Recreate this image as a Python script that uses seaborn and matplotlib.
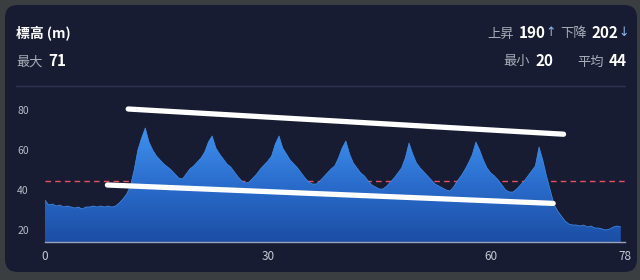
import numpy as np
import pandas as pd
import matplotlib
matplotlib.use("Agg")
import matplotlib.pyplot as plt
from matplotlib.patches import FancyBboxPatch
from matplotlib.colors import LinearSegmentedColormap
import seaborn as sns

# ---------------- data ----------------
step_km = 0.5
elevation = [
    35, 32.5, 33, 32, 32.5, 31.5, 32, 31.5, 31, 31.5,
    30.5, 31.5, 31.5, 32, 31.5, 32, 31.5, 32, 31.5, 32,
    33.5, 35.5, 38, 42, 50, 60, 66, 71, 64, 60,
    57, 55, 53, 51.5, 50, 48, 46, 45.5, 48, 50.5,
    52, 54, 56, 59, 64, 67, 61, 58, 55.5, 53,
    51.5, 49, 46.5, 44.5, 43.5, 44, 46, 48, 50.5, 52.5,
    54.5, 57, 63, 67, 61, 58, 55, 53, 51, 48.5,
    46, 44, 43, 43, 44.5, 46.5, 48.5, 50.5, 52, 56,
    61, 64.5, 58, 53.5, 51, 48.5, 47, 44.5, 42.5, 41.5,
    40.5, 40.5, 42, 44, 46, 48.5, 51, 56, 63.5, 58,
    53.5, 51, 49, 47, 45, 43, 42, 41, 40, 39.5,
    41.5, 44.5, 47, 50, 53.5, 57.5, 64, 60, 55, 51,
    48.5, 47, 45, 42.5, 40, 39, 39, 40.5, 42.5, 44.5,
    47, 49.5, 52, 61.5, 55, 47, 40, 33, 29.5, 27,
    24.5, 23, 22.5, 22.5, 22, 22.5, 21.5, 22, 21, 21,
    20.5, 20, 20.5, 21.5, 22, 21.5,
]
distance = np.arange(len(elevation)) * step_km

avg_line = 44.6
x_ticks = [0, 30, 60, 78]
y_ticks = [20, 40, 60, 80]

# trend lines (distance, elevation) endpoints
upper_trend_x = [11.2, 69.8]
upper_trend_y = [80.5, 67.9]
lower_trend_x = [8.4, 68.4]
lower_trend_y = [42.5, 33.3]

title = "標高 (m)"
stat_max = ("最大", "71")
stat_up = ("上昇", "190", "↑")
stat_down = ("下降", "202", "↓")
stat_min = ("最小", "20")
stat_avg = ("平均", "44")

df = pd.DataFrame({"distance": distance, "elevation": elevation})

# ---------------- style ----------------
sns.set_theme(style="dark")
plt.rcParams["font.family"] = ["Noto Sans CJK JP", "DejaVu Sans"]

BG = "#181c32"
OUTER = "#3b3e41"
GREY = "#a9adb8"
WHITE = "#ffffff"
NUM_FS = 11

W, H = 640, 280
fig = plt.figure(figsize=(W / 100, H / 100), dpi=100)
fig.patch.set_facecolor(OUTER)

card = FancyBboxPatch((5 / W, 8 / H), 632 / W, 267 / H,
                      boxstyle="round,pad=0,rounding_size=0.02",
                      transform=fig.transFigure, facecolor=BG,
                      edgecolor="none", zorder=-10, mutation_aspect=W / H)
fig.patches.append(card)

def fx(px):
    return px / W

def fy(py):
    return 1 - py / H

# header texts
fig.text(fx(16), fy(33), title, color=WHITE, fontsize=10, fontweight="bold",
         va="center", ha="left")
fig.text(fx(16), fy(62), stat_max[0], color=GREY, fontsize=9.5, va="center", ha="left")
fig.text(fx(48), fy(61), stat_max[1], color=WHITE, fontsize=NUM_FS, fontweight="bold",
         va="center", ha="left")

fig.text(fx(487), fy(34), stat_up[0], color=GREY, fontsize=9.5, va="center", ha="left")
fig.text(fx(519), fy(33), stat_up[1], color=WHITE, fontsize=NUM_FS, fontweight="bold",
         va="center", ha="left")
fig.text(fx(545), fy(33), stat_up[2], color="#8fb8e8", fontsize=9,
         va="center", ha="left", family=["DejaVu Sans"])
fig.text(fx(560), fy(34), stat_down[0], color=GREY, fontsize=9.5, va="center", ha="left")
fig.text(fx(591), fy(33), stat_down[1], color=WHITE, fontsize=NUM_FS, fontweight="bold",
         va="center", ha="left")
fig.text(fx(618), fy(33), stat_down[2], color="#8fb8e8", fontsize=9,
         va="center", ha="left", family=["DejaVu Sans"])

fig.text(fx(503), fy(62), stat_min[0], color=GREY, fontsize=9.5, va="center", ha="left")
fig.text(fx(536), fy(61), stat_min[1], color=WHITE, fontsize=NUM_FS, fontweight="bold",
         va="center", ha="left")
fig.text(fx(577), fy(62), stat_avg[0], color=GREY, fontsize=9.5, va="center", ha="left")
fig.text(fx(609), fy(61), stat_avg[1], color=WHITE, fontsize=NUM_FS, fontweight="bold",
         va="center", ha="left")

# separator
fig.add_artist(plt.Line2D([fx(16), fx(625)], [fy(86), fy(86)],
                          transform=fig.transFigure, color="#2e3452", lw=1))

# ---------------- axes ----------------
ax_left, ax_right, ax_top, ax_bottom = 45, 624.5, 98, 242
ax = fig.add_axes([fx(ax_left), fy(ax_bottom), (ax_right - ax_left) / W,
                   (ax_bottom - ax_top) / H])
ax.set_zorder(2)
ax.patch.set_alpha(0)
ax.set_xlim(0, 78)
ax.set_ylim(14, 86)

ax.axhline(avg_line, color="#e8505f", lw=1.0, ls=(0, (4, 3)), zorder=0.5)

poly = ax.fill_between(df["distance"], df["elevation"], 14, color="none", lw=0)
cmap = LinearSegmentedColormap.from_list("elev", ["#1c4ea4", "#2a6ccc", "#4093f0"])
grad = np.linspace(0, 1, 256).reshape(-1, 1)
img = ax.imshow(grad, extent=[0, 78, 14, 71], origin="lower", cmap=cmap,
                aspect="auto", zorder=1)
path = poly.get_paths()[0]
img.set_clip_path(path, ax.transData)

sns.lineplot(data=df, x="distance", y="elevation", ax=ax, color="#3f8fee",
             lw=0.5, zorder=2)

ax.plot(upper_trend_x, upper_trend_y, color=WHITE, lw=3.8,
        solid_capstyle="round", zorder=4)
ax.plot(lower_trend_x, lower_trend_y, color=WHITE, lw=3.8,
        solid_capstyle="round", zorder=4)

ax.set_xlim(0, 78)
ax.set_ylim(14, 86)
ax.set_xticks(x_ticks)
ax.set_yticks(y_ticks)
ax.set_xticklabels([str(v) for v in x_ticks], color="#c5c9d2", fontsize=8.5)
ax.set_yticklabels([str(v) for v in y_ticks], color="#b9bdc8", fontsize=7.5)
ax.tick_params(axis="both", length=0)
ax.tick_params(axis="x", pad=6)
ax.tick_params(axis="y", pad=20)
for lab in ax.get_yticklabels():
    lab.set_horizontalalignment("left")
ax.set_xlabel("")
ax.set_ylabel("")
ax.grid(False)
for s in ["top", "right", "left"]:
    ax.spines[s].set_visible(False)
ax.spines["bottom"].set_color("#9aa2bb")
ax.spines["bottom"].set_linewidth(1)
ax.spines["bottom"].set_zorder(5)

fig.savefig("out.png", dpi=100, facecolor=fig.get_facecolor())
